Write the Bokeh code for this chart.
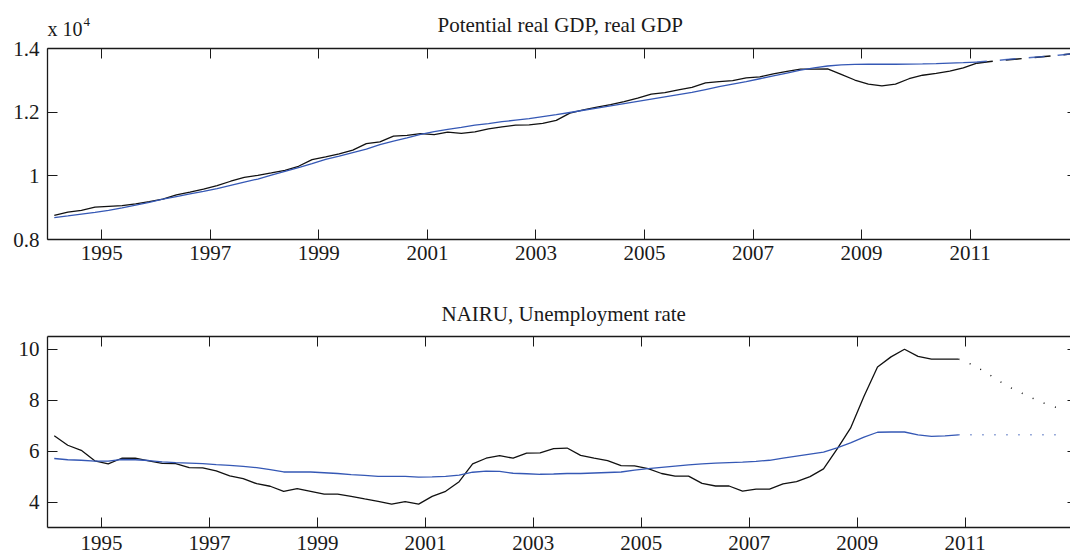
from bokeh.plotting import figure
from bokeh.models import Range1d, LinearAxis, FixedTicker, Title
from bokeh.layouts import column
from bokeh.embed import file_html
from bokeh.resources import INLINE

# ---------------- data ----------------
first_quarter = 1994.125   # 1994Q1 (mid-quarter position on a year axis)
quarter_step = 0.25

real_gdp = [8755, 8860, 8915, 9015, 9040, 9065, 9120, 9190, 9270, 9400, 9485, 9580,
            9690, 9830, 9950, 10015, 10090, 10175, 10300, 10510, 10595, 10690, 10810, 11010,
            11065, 11250, 11270, 11325, 11295, 11370, 11335, 11380, 11475, 11535, 11590, 11600,
            11650, 11740, 11970, 12070, 12160, 12240, 12330, 12440, 12565, 12612, 12700, 12780,
            12920, 12960, 12990, 13076, 13107, 13200, 13280, 13350, 13355, 13360, 13190, 13010,
            12880, 12825, 12880, 13050, 13160, 13220, 13290, 13390, 13540]
potential_gdp = [8685, 8740, 8800, 8855, 8915, 8995, 9080, 9165, 9265, 9350, 9430, 9510,
                 9600, 9700, 9800, 9900, 10020, 10140, 10260, 10380, 10520, 10620, 10730, 10840,
                 10980, 11090, 11190, 11300, 11390, 11460, 11520, 11590, 11640, 11700, 11750, 11800,
                 11860, 11920, 11990, 12060, 12130, 12200, 12270, 12340, 12410, 12480, 12550, 12620,
                 12710, 12800, 12880, 12960, 13050, 13140, 13230, 13320, 13390, 13450, 13485, 13500,
                 13505, 13505, 13505, 13510, 13515, 13525, 13540, 13555, 13575]
# forecasts 2011Q1 .. 2012Q4
gdp_forecast = [13540, 13590, 13630, 13670, 13710, 13750, 13790, 13830]
potential_forecast = [13575, 13610, 13645, 13680, 13715, 13750, 13790, 13830]

unemployment = [6.6, 6.23, 6.03, 5.62, 5.5, 5.72, 5.72, 5.62, 5.52, 5.51, 5.35, 5.34,
                5.22, 5.03, 4.92, 4.72, 4.62, 4.42, 4.53, 4.42, 4.31, 4.31, 4.22, 4.12,
                4.03, 3.92, 4.02, 3.92, 4.22, 4.42, 4.8, 5.5, 5.72, 5.82, 5.72, 5.92,
                5.93, 6.1, 6.12, 5.83, 5.72, 5.63, 5.43, 5.42, 5.31, 5.12, 5.02, 5.02,
                4.73, 4.63, 4.63, 4.43, 4.51, 4.51, 4.71, 4.8, 5.0, 5.3, 6.08, 6.9,
                8.15, 9.3, 9.7, 10.0, 9.72, 9.61, 9.61, 9.61]
nairu = [5.71, 5.66, 5.64, 5.61, 5.61, 5.67, 5.66, 5.63, 5.58, 5.55, 5.53, 5.51,
         5.47, 5.44, 5.40, 5.35, 5.27, 5.18, 5.18, 5.18, 5.15, 5.12, 5.08, 5.05,
         5.01, 5.01, 5.01, 4.98, 4.99, 5.01, 5.06, 5.17, 5.21, 5.20, 5.13, 5.11,
         5.09, 5.10, 5.12, 5.12, 5.14, 5.16, 5.18, 5.25, 5.31, 5.36, 5.41, 5.46,
         5.50, 5.53, 5.55, 5.57, 5.60, 5.64, 5.72, 5.80, 5.88, 5.96, 6.13, 6.32,
         6.55, 6.74, 6.75, 6.75, 6.64, 6.58, 6.60, 6.64]
# forecasts 2010Q4 .. 2012Q4
unemployment_forecast = [9.61, 9.4, 9.1, 8.75, 8.45, 8.2, 7.95, 7.75, 7.6]
nairu_forecast = [6.64, 6.64, 6.64, 6.64, 6.64, 6.64, 6.64, 6.64, 6.64]

year_ticks = [1995, 1997, 1999, 2001, 2003, 2005, 2007, 2009, 2011]
gdp_tick_values = [8000, 10000, 12000, 14000]
gdp_tick_labels = ["0.8", "1", "1.2", "1.4"]
gdp_scale_base = "x 10"
gdp_scale_exponent = "4"
ur_tick_values = [4, 6, 8, 10]

title_top = "Potential real GDP, real GDP"
title_bottom = "NAIRU, Unemployment rate"

# ---------------- helpers ----------------
def dates(start, n):
    return [start + quarter_step * i for i in range(n)]

gdp_x = dates(first_quarter, len(real_gdp))
gdp_fc_x = dates(gdp_x[-1], len(gdp_forecast))
ur_x = dates(first_quarter, len(unemployment))
ur_fc_x = dates(ur_x[-1], len(unemployment_forecast))

FONT = "Liberation Serif"
AX = "#1a1a1a"
BLACK = "#111111"
BLUE = "#3558b5"


def make_fig(width, height, x_end, y_start, y_end, border_left, border_top, border_bottom):
    p = figure(width=width, height=height, x_range=Range1d(1994, x_end),
               y_range=Range1d(y_start, y_end), output_backend="svg",
               toolbar_location=None, min_border_left=border_left, min_border_right=0,
               min_border_top=border_top, min_border_bottom=border_bottom, title=None)
    p.outline_line_color = None
    p.xgrid.visible = False
    p.ygrid.visible = False
    p.background_fill_color = "white"
    p.border_fill_color = "white"
    return p


def make_title(text, size, offset, standoff):
    return Title(text=text, align="left", offset=offset, standoff=standoff,
                 text_font=FONT, text_font_size=size, text_font_style="normal",
                 text_color=AX)


def style(ax, ticks, labels=True, tick_in=10, line=True, standoff=8):
    ax.ticker = FixedTicker(ticks=ticks)
    ax.axis_line_color = AX if line else None
    ax.axis_line_width = 1.3
    ax.major_tick_in = tick_in
    ax.major_tick_out = 0
    ax.major_tick_line_color = AX
    ax.major_tick_line_width = 1
    ax.minor_tick_line_color = None
    ax.major_label_text_font = FONT
    ax.major_label_text_font_size = "21px"
    ax.major_label_text_color = AX
    ax.major_label_standoff = standoff
    if not labels:
        ax.major_label_text_font_size = "0px"
        ax.major_label_text_color = None
        ax.major_label_standoff = 0


def decorate(p, yticks, x_standoff):
    style(p.xaxis[0], year_ticks, standoff=x_standoff)
    style(p.yaxis[0], yticks, standoff=8)
    top = LinearAxis()
    style(top, year_ticks, labels=False)
    p.add_layout(top, "above")
    right = LinearAxis()
    style(right, yticks, labels=False, tick_in=3, line=False)
    p.add_layout(right, "right")


# ---------------- top panel ----------------
p1 = make_fig(1070, 274, 2012.85, 8000, 14000, 47, 48, 35)
decorate(p1, gdp_tick_values, 6)
p1.yaxis[0].major_label_overrides = dict(zip(gdp_tick_values, gdp_tick_labels))
# scale factor (x 10, exponent) and title, stacked above the frame
p1.add_layout(make_title(gdp_scale_base, "20px", 0, 17), "above")
p1.add_layout(make_title(gdp_scale_exponent, "13px", 36, -36), "above")
p1.add_layout(make_title(title_top, "21px", 390, -59), "above")

p1.line(gdp_x, real_gdp, line_color=BLACK, line_width=1.3)
p1.line(gdp_x, potential_gdp, line_color=BLUE, line_width=1.3)
p1.line(gdp_fc_x, gdp_forecast, line_color=BLACK, line_width=1.5, line_dash="16 13")
p1.line(gdp_fc_x, potential_forecast, line_color=BLUE, line_width=1.5, line_dash="16 13",
        line_dash_offset=6, line_alpha=0.85)

# ---------------- bottom panel ----------------
p2 = make_fig(1070, 285, 2012.95, 3, 10.5, 43, 62, 32)
decorate(p2, ur_tick_values, 8)
p2.add_layout(make_title(title_bottom, "21px", 394, 21), "above")

p2.line(ur_x, unemployment, line_color=BLACK, line_width=1.3)
p2.line(ur_x, nairu, line_color=BLUE, line_width=1.3)
p2.line(ur_fc_x, unemployment_forecast, line_color=BLACK, line_width=1.5, line_dash="1 11")
p2.line(ur_fc_x, nairu_forecast, line_color=BLUE, line_width=1.5, line_dash="1 11")

layout = column(p1, p2, spacing=0)
open("out.html", "w").write(file_html(layout, INLINE))
